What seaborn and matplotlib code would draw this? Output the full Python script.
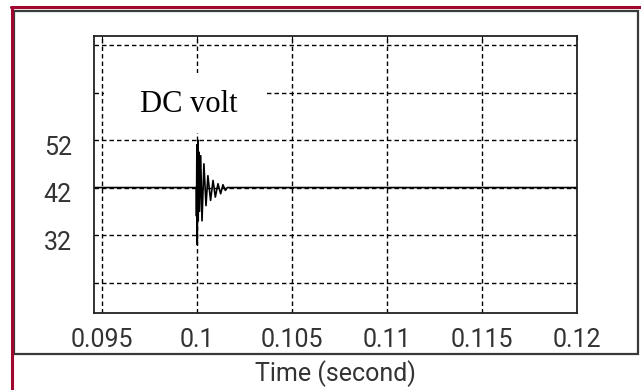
import numpy as np
import pandas as pd
import seaborn as sns
import matplotlib.pyplot as plt
import matplotlib.transforms as mtransforms
from matplotlib.patches import Rectangle
from matplotlib.lines import Line2D

# DC link voltage trace
time_s = [0.0946, 0.09998, 0.09999, 0.10001, 0.10003, 0.10006, 0.10008, 0.10011,
          0.10015, 0.10021, 0.10028, 0.10038, 0.10049, 0.10059, 0.10073, 0.10086,
          0.10098, 0.10112, 0.10126, 0.10138, 0.10151, 0.10161, 0.12]
volt = [42, 42, 36, 51, 30, 52, 35, 49.5,
        37, 48.7, 35, 47, 38.2, 44.5, 39.3, 43.5,
        40, 42.8, 40.7, 42.6, 41.4, 42, 42]

x_ticks = [0.095, 0.1, 0.105, 0.11, 0.115, 0.12]
x_labels = ['0.095', '0.1', '0.105', '0.11', '0.115', '0.12']
y_ticks = [22, 32, 42, 52, 62, 72]
y_labels = ['', '32', '42', '52', '', '']

df = pd.DataFrame({'t': time_s, 'v': volt})

sns.set_style('white')
plt.rcParams['font.family'] = ['Roboto', 'DejaVu Sans']

fig = plt.figure(figsize=(6.41, 3.90), dpi=100)
fig.patch.set_facecolor('white')

# outer frames
W, H = 641, 390
fig.add_artist(Rectangle((14 / W, 1 - 354 / H), (638 - 14) / W, (354 - 11) / H,
                         transform=fig.transFigure, fill=False,
                         edgecolor='#3a3a3a', lw=1.6))
fig.add_artist(Line2D([11 / W, 1], [1 - 7 / H, 1 - 7 / H], transform=fig.transFigure,
                      color='#a0062e', lw=2.2))
fig.add_artist(Line2D([12 / W, 12 / W], [0, 1 - 7 / H], transform=fig.transFigure,
                      color='#a0062e', lw=2.2))

ax = fig.add_axes([94 / W, 1 - 313 / H, (577 - 94) / W, (313 - 36) / H])
sns.lineplot(data=df, x='t', y='v', ax=ax, estimator=None, sort=False,
             color='black', lw=1.2)

ax.set_xlim(0.0946, 0.12)
ax.set_ylim(15.6, 73.9)
ax.set_xticks(x_ticks)
ax.set_xticklabels(x_labels)
ax.set_yticks(y_ticks)
ax.set_yticklabels(y_labels)
ax.grid(True, color='black', lw=1.0, linestyle=(0, (3.2, 2.2)))
ax.set_axisbelow(True)

ax.tick_params(axis='both', direction='in', length=3, width=0.8, colors='black',
               labelcolor='#333333', labelsize=18, top=True, right=True)
ax.tick_params(axis='y', pad=16)
ax.tick_params(axis='x', pad=11)
for s in ax.spines.values():
    s.set_color('#222222')
    s.set_linewidth(1.3)

# y labels sit a little below their grid lines
off = mtransforms.ScaledTranslation(0, -0.05, fig.dpi_scale_trans)
for lab in ax.get_yticklabels():
    lab.set_transform(lab.get_transform() + off)

ax.set_xlabel('Time (second)', fontsize=18, color='#333333', labelpad=6)
ax.set_ylabel('')

# white patch behind the label, covering the grid
ax.add_patch(Rectangle((0.021, 0.650), 0.335, 0.216, transform=ax.transAxes,
                       facecolor='white', edgecolor='none', zorder=1.5))
ax.text(0.1957, 0.751, 'DC volt', transform=ax.transAxes, ha='center', va='center',
        fontsize=22, family='Liberation Serif', color='black', zorder=3)

fig.savefig('out.png', dpi=100, facecolor='white')
